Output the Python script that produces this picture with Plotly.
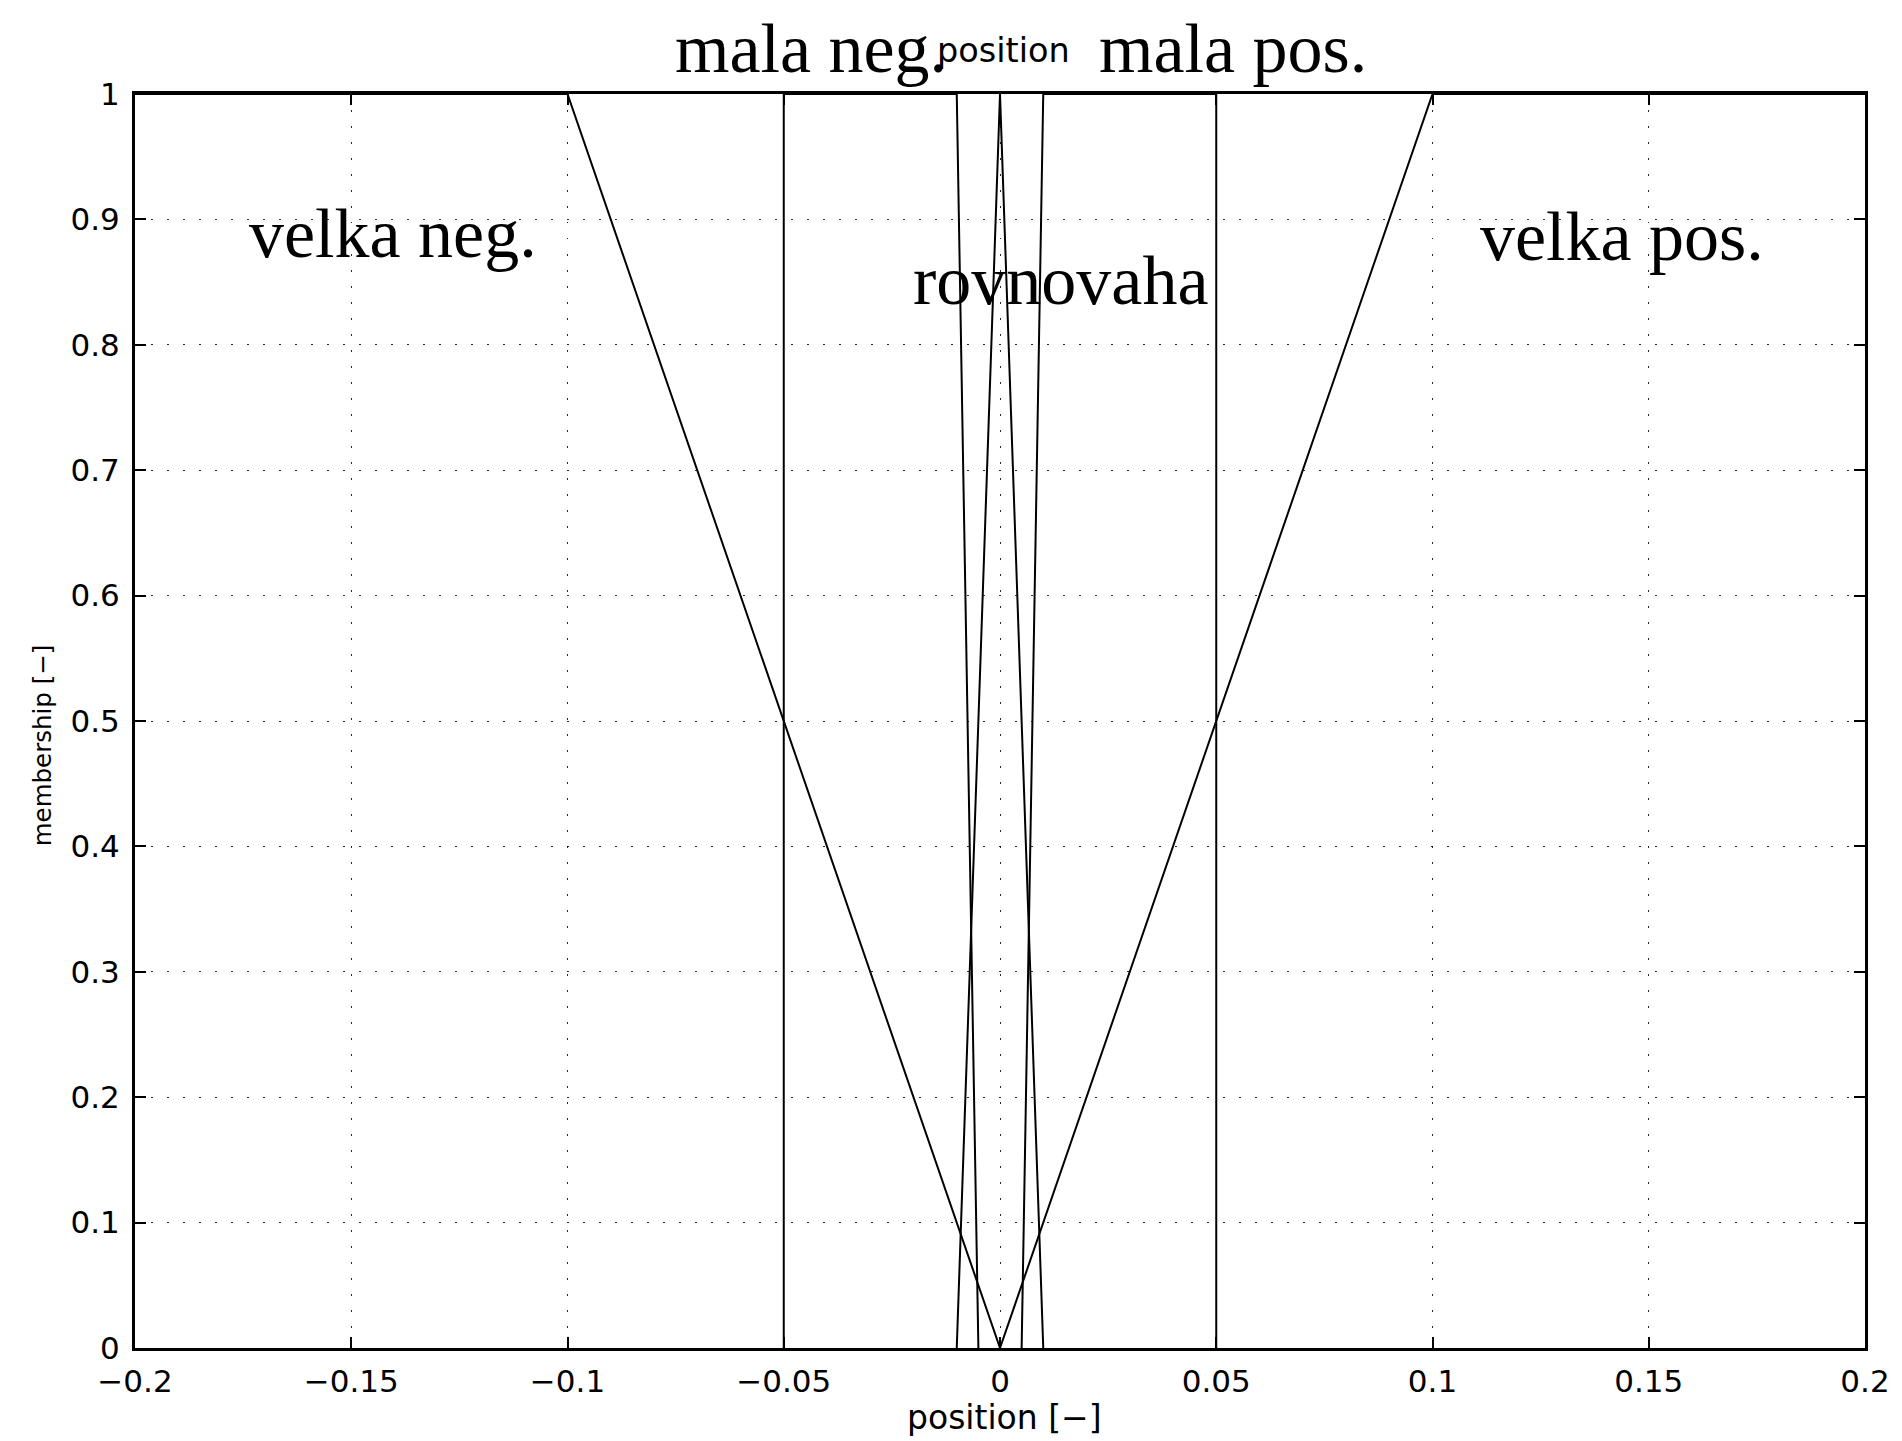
import plotly.graph_objects as go

# membership function vertices (position, membership)
velka_neg_x = [-0.2, -0.1, 0.0]
velka_neg_y = [1.0, 1.0, 0.0]
mala_neg_x = [-0.05, -0.05, -0.01, -0.005]
mala_neg_y = [0.0, 1.0, 1.0, 0.0]
rovnovaha_x = [-0.01, 0.0, 0.01]
rovnovaha_y = [0.0, 1.0, 0.0]
mala_pos_x = [0.005, 0.01, 0.05, 0.05]
mala_pos_y = [0.0, 1.0, 1.0, 0.0]
velka_pos_x = [0.0, 0.1, 0.2]
velka_pos_y = [0.0, 1.0, 1.0]

x_ticks = [-0.2, -0.15, -0.1, -0.05, 0.0, 0.05, 0.1, 0.15, 0.2]
x_tick_labels = ["\u22120.2", "\u22120.15", "\u22120.1", "\u22120.05", "0", "0.05", "0.1", "0.15", "0.2"]
y_ticks = [0.0, 0.1, 0.2, 0.3, 0.4, 0.5, 0.6, 0.7, 0.8, 0.9, 1.0]
y_tick_labels = ["0", "0.1", "0.2", "0.3", "0.4", "0.5", "0.6", "0.7", "0.8", "0.9", "1"]

set_names = ["velka neg.", "mala neg.", "rovnovaha", "mala pos.", "velka pos."]
# text anchor (left x, baseline y) in data coordinates
label_x = [-0.174, -0.0755, -0.0205, 0.0225, 0.1105]
label_y = [0.869, 1.017, 0.832, 1.017, 0.867]

W, H = 1902, 1441
ML, MR, MT, MB = 135, 34, 94, 93
X0, X1 = -0.2, 0.2

fig = go.Figure()
for xs, ys in [(velka_neg_x, velka_neg_y), (mala_neg_x, mala_neg_y),
               (rovnovaha_x, rovnovaha_y), (mala_pos_x, mala_pos_y),
               (velka_pos_x, velka_pos_y)]:
    fig.add_trace(go.Scatter(x=xs, y=ys, mode="lines",
                             line=dict(color="black", width=2),
                             showlegend=False, hoverinfo="skip"))

for name, lx, ly in zip(set_names, label_x, label_y):
    # paper coordinates (y range is 0..1) so labels above the frame stay visible
    fig.add_annotation(x=(lx - X0) / (X1 - X0), y=ly, xref="paper", yref="paper", text=name,
                       showarrow=False, xanchor="left", yanchor="bottom",
                       yshift=-16,
                       font=dict(family="Liberation Serif", size=70, color="black"))

sans = "DejaVu Sans"
fig.add_annotation(x=0.5018, y=1.0345, xref="paper", yref="paper", text="position",
                   showarrow=False, xanchor="center", yanchor="middle",
                   font=dict(family=sans, size=33.5, color="black"))
fig.add_annotation(x=0.5027, y=-0.0555, xref="paper", yref="paper", text="position [\u2212]",
                   showarrow=False, xanchor="center", yanchor="middle",
                   font=dict(family=sans, size=33, color="black"))
fig.add_annotation(x=-0.0535, y=0.481, xref="paper", yref="paper", text="membership [\u2212]",
                   showarrow=False, xanchor="center", yanchor="middle", textangle=-90,
                   font=dict(family=sans, size=24.5, color="black"))

axis_common = dict(
    showline=True, linecolor="black", linewidth=3, mirror="allticks",
    ticks="inside", ticklen=11, tickwidth=1.5, tickcolor="black",
    showgrid=True, gridcolor="rgba(0,0,0,0.85)", gridwidth=1.2, griddash="1.5px,14.5px",
    zeroline=False, tickfont=dict(family=sans, size=31, color="black"),
)
fig.update_xaxes(range=[X0, X1], tickvals=x_ticks, ticktext=x_tick_labels,
                 ticklabelstandoff=4, **axis_common)
fig.update_yaxes(range=[0, 1], tickvals=y_ticks, ticktext=y_tick_labels,
                 ticklabelstandoff=6, **axis_common)

fig.update_layout(width=W, height=H, margin=dict(l=ML, r=MR, t=MT, b=MB),
                  paper_bgcolor="white", plot_bgcolor="white",
                  font=dict(family=sans, color="black"))
fig.write_html("out.html")
